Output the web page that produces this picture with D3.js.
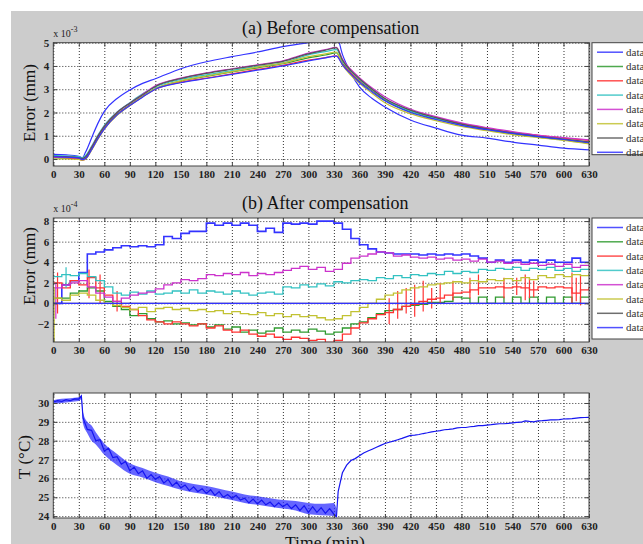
<!DOCTYPE html>
<html><head><meta charset="utf-8">
<script src="https://cdn.jsdelivr.net/npm/d3@7"></script>
<style>
body{margin:0;background:#fff;}
svg{display:block;font-family:"Liberation Serif","Times New Roman",serif;}
</style></head><body>
<svg id="c" width="643" height="544"></svg>
<script>
// ---------- shared ----------
const xTicks = [0,30,60,90,120,150,180,210,240,270,300,330,360,390,420,450,480,510,540,570,600,630];
const legendNames = ["data1","data2","data3","data4","data5","data6","data7","data8"];
const colors = ["#3333ff","#2f9a2f","#ff3333","#33c2c2","#cc33cc","#c2c233","#555555","#3333ff"];

// ---------- panel (a) Before compensation (x 10^-3 mm) ----------
const beforeTicks = [0,1,2,3,4,5];
const beforeTime = [0,15,30,34,38,45,52,60,75,90,105,120,150,180,210,240,270,300,320,333,340,350,360,375,390,420,450,480,510,540,570,600,630];
const beforeS1 = [0.2,0.18,0.12,0.05,0.3,0.9,1.5,2.05,2.6,2.97,3.25,3.45,3.88,4.18,4.4,4.6,4.83,5.0,5.1,5.3,4.5,3.7,3.1,2.6,2.24,1.68,1.33,1.03,0.9,0.73,0.6,0.47,0.39];
const beforeS2 = [0.05,0.04,0.02,-0.03,0.02,0.42,0.88,1.33,1.93,2.33,2.7,3.02,3.35,3.55,3.74,3.92,4.1,4.35,4.47,4.56,4.12,3.7,3.35,2.93,2.53,2.03,1.72,1.45,1.25,1.08,0.94,0.82,0.68];
const beforeS3 = [0.08,0.05,0.0,-0.05,0.0,0.4,0.85,1.3,1.9,2.3,2.68,3.0,3.3,3.48,3.66,3.85,4.03,4.25,4.36,4.44,4.08,3.7,3.38,2.97,2.58,2.08,1.78,1.52,1.32,1.15,1.02,0.9,0.8];
const beforeS4 = [0.15,0.13,0.1,0.05,0.15,0.55,1.0,1.45,2.02,2.42,2.8,3.1,3.42,3.62,3.8,3.98,4.13,4.48,4.62,4.7,4.22,3.78,3.42,2.98,2.58,2.06,1.75,1.48,1.28,1.12,0.98,0.85,0.72];
const beforeS5 = [0.1,0.08,0.05,0.0,0.08,0.5,0.95,1.4,2.0,2.4,2.78,3.15,3.48,3.7,3.88,4.05,4.22,4.55,4.7,4.8,4.3,3.85,3.5,3.05,2.68,2.15,1.82,1.55,1.35,1.18,1.03,0.92,0.82];
const beforeS6 = [0.0,0.0,-0.02,-0.05,0.0,0.38,0.82,1.28,1.88,2.3,2.68,3.02,3.36,3.57,3.76,3.95,4.12,4.4,4.52,4.6,4.05,3.6,3.25,2.82,2.42,1.95,1.65,1.4,1.22,1.05,0.92,0.8,0.65];
const beforeS7 = [0.12,0.1,0.06,0.02,0.1,0.5,0.95,1.4,2.0,2.4,2.76,3.12,3.46,3.68,3.86,4.03,4.2,4.52,4.68,4.78,4.25,3.8,3.45,3.0,2.6,2.1,1.78,1.5,1.3,1.12,0.98,0.86,0.74];
const beforeS8 = [0.1,0.08,0.05,-0.03,0.02,0.4,0.85,1.3,1.9,2.3,2.66,3.0,3.28,3.46,3.64,3.82,4.0,4.22,4.35,4.42,4.05,3.65,3.3,2.88,2.5,2.0,1.7,1.45,1.26,1.1,0.96,0.84,0.7];

// ---------- panel (b) After compensation (x 10^-4 mm) ----------
const afterTicks = [-2,0,2,4,6,8];
const afterTime = [0,10,20,30,40,50,60,70,80,90,100,110,120,130,140,150,160,170,180,190,200,210,220,230,240,250,260,270,280,290,300,310,320,330,340,350,360,370,380,390,400,410,420,430,440,450,460,470,480,490,500,510,520,530,540,550,560,570,580,590,600,610,620,630];
const afterS1 = [0.0,1.8,2.2,3.0,4.8,5.0,5.2,5.4,5.6,5.5,5.6,5.5,5.7,6.5,6.3,6.8,7.0,7.0,7.8,7.6,7.8,7.6,7.8,7.6,7.0,7.3,6.9,7.8,7.7,7.8,7.7,8.0,8.0,7.8,7.2,6.3,5.7,5.3,5.0,4.9,4.8,4.8,4.8,4.7,4.8,4.7,4.8,4.7,4.8,4.6,4.4,4.0,4.2,4.0,4.2,4.0,4.2,4.0,4.2,4.0,4.0,4.4,4.0,4.0];
const afterS2 = [0.5,0.5,1.0,1.2,1.5,1.2,0.2,-0.3,-0.6,-1.2,-1.0,-1.5,-1.8,-1.7,-2.0,-1.9,-2.1,-2.0,-2.3,-2.1,-2.5,-2.3,-2.8,-2.6,-2.9,-2.7,-2.4,-2.8,-2.6,-2.8,-2.5,-2.7,-3.0,-2.8,-2.4,-2.0,-1.8,-1.4,-1.0,-0.7,-0.6,-0.3,-0.2,-0.1,0.1,0.1,0.2,0.6,0.5,0.0,0.6,0.0,0.6,0.0,0.6,0.0,0.6,0.0,0.6,0.0,0.6,0.0,0.6,0.6];
const afterS3 = [2.0,1.5,2.2,1.8,2.5,1.5,0.8,0.2,-0.3,-0.6,-1.2,-1.6,-1.8,-2.0,-1.8,-2.0,-2.2,-2.0,-2.4,-2.2,-2.6,-2.8,-2.6,-3.0,-3.2,-3.0,-3.3,-3.5,-3.3,-3.4,-3.6,-3.5,-3.8,-3.6,-3.0,-2.4,-1.9,-1.5,-1.1,-0.9,-0.6,-0.3,-0.1,0.2,0.4,0.5,0.8,1.0,1.1,1.3,1.5,1.5,1.6,1.5,1.6,1.5,1.3,1.6,1.5,1.6,1.5,1.0,1.3,1.6];
const afterS4 = [2.6,2.8,2.7,2.9,2.6,2.2,1.6,1.0,0.8,1.1,0.9,1.2,0.9,1.0,1.2,1.0,1.3,1.0,1.2,1.1,0.9,1.2,1.0,0.8,1.0,1.1,0.9,1.6,1.5,1.8,1.6,1.9,1.7,2.1,2.0,2.2,2.3,2.2,2.5,2.4,2.7,2.5,2.8,2.7,2.9,2.8,3.1,2.9,3.1,3.0,3.3,3.2,3.4,3.3,3.5,3.2,3.4,3.3,3.5,3.2,3.4,3.1,3.3,3.4];
const afterS5 = [1.5,1.8,2.0,2.2,1.6,1.0,0.6,0.2,0.5,0.8,1.0,1.1,1.4,1.8,2.0,2.3,2.2,2.4,2.8,2.7,2.9,2.8,3.0,2.7,2.9,2.8,3.0,3.2,3.4,3.6,3.3,3.5,3.1,3.3,3.9,4.4,4.6,4.8,5.0,4.9,4.6,4.7,4.5,4.4,4.5,4.3,4.4,4.2,4.3,4.1,4.3,4.0,4.1,3.9,4.0,3.8,3.9,3.7,3.8,3.6,3.8,3.5,3.7,3.6];
const afterS6 = [0.5,0.3,0.8,1.0,0.8,0.3,0.0,-0.2,-0.4,-0.6,-0.4,-0.8,-0.5,-0.4,-0.6,-0.5,-0.7,-0.6,-0.8,-0.7,-1.0,-0.8,-1.0,-1.1,-0.9,-1.2,-1.0,-1.3,-1.1,-1.3,-1.2,-1.4,-1.6,-1.5,-1.2,-0.8,-0.4,0.0,0.4,0.8,1.0,1.3,1.5,1.6,1.8,1.9,2.0,2.1,2.0,2.2,2.1,2.3,2.2,2.4,2.2,2.5,2.3,2.7,2.5,2.8,2.6,2.8,2.7,2.9];
const refTime = [0,630];
const afterS7 = [0,0];
const afterS8 = [0,0];
// vertical noise spikes: [time, low, high]
const spikesS3 = [[5,-1,3],[42,0.5,3.3],[55,0,2.8],[75,-0.8,1.2],[395,-2,0.5],[405,-1.5,1.2],[415,-1,1.5],[425,-1.3,1.8],[435,-0.8,2.2],[445,-0.5,1.5],[455,0,2],[470,0.3,2.2],[490,0.5,2.5],[500,0.8,2.8],[530,0.5,2.5],[545,0.8,2.5],[555,0.3,2.8],[560,0.5,2.5],[565,0.6,2.2],[610,0,3],[615,0.2,2.5],[620,-0.2,2.8]];
const spikesS4 = [[15,1.5,3.5]];
const spikesS5 = [[3,-1.5,2]];
const spikesS6 = [[1,-3.8,1.6]];

// ---------- panel (c) Temperature ----------
const tempTicks = [24,25,26,27,28,29,30];
const tempTime = [0,5,10,15,20,25,30,33,35,40,45,50,55,60,65,70,75,80,85,90,95,100,105,110,115,120,125,130,135,140,145,150,155,160,165,170,175,180,185,190,195,200,205,210,215,220,225,230,235,240,245,250,255,260,265,270,275,280,285,290,295,300,305,310,315,320,325,330,333,335,340,345,350,355,360,365,370,375,380,385,390,395,400,405,410,415,420,425,430,435,440,445,450,455,460,465,470,475,480,485,490,495,500,505,510,515,520,525,530,535,540,545,550,555,560,565,570,575,580,585,590,595,600,605,610,615,620,625,630];
const tempVals = [30.05,30.12,30.08,30.18,30.12,30.22,30.2,30.38,29.2,28.6,28.55,28.0,28.05,27.45,27.6,27.1,27.15,26.75,26.9,26.4,26.6,26.25,26.4,26.0,26.2,25.95,26.1,25.75,25.95,25.6,25.8,25.5,25.65,25.35,25.55,25.3,25.45,25.2,25.4,25.1,25.3,25.0,25.15,24.95,25.1,24.85,24.95,24.7,24.9,24.65,24.85,24.6,24.75,24.5,24.7,24.5,24.65,24.4,24.6,24.3,24.55,24.2,24.5,24.2,24.45,24.15,24.4,24.1,23.98,25.3,26.3,26.7,26.95,27.05,27.2,27.35,27.45,27.55,27.65,27.75,27.85,27.92,27.98,28.05,28.12,28.2,28.28,28.3,28.33,28.38,28.42,28.47,28.5,28.53,28.58,28.6,28.63,28.68,28.7,28.7,28.74,28.76,28.8,28.8,28.83,28.85,28.88,28.9,28.9,28.92,28.95,28.97,28.98,29.05,29.02,29.0,29.05,29.06,29.08,29.1,29.1,29.12,29.15,29.16,29.17,29.2,29.22,29.23,29.24];
const envTime = [0,10,20,30,33,35,40,45,50,60,75,90,105,120,135,150,165,180,195,210,225,240,255,270,285,300,315,330,333];
const envHigh = [30.15,30.22,30.25,30.3,30.4,29.5,29.0,28.8,28.45,27.85,27.3,26.8,26.55,26.3,26.1,25.85,25.7,25.6,25.45,25.3,25.15,25.05,24.95,24.85,24.8,24.7,24.65,24.7,24.4];
const envLow = [29.95,30.0,30.05,30.1,30.2,28.9,28.4,28.0,27.8,27.25,26.7,26.25,26.05,25.8,25.6,25.4,25.25,25.15,25.0,24.85,24.7,24.6,24.5,24.4,24.3,24.1,24.05,24.0,23.95];

// ---------- drawing ----------
const svg = d3.select("#c");
svg.append("rect").attr("x",11).attr("y",11).attr("width",632).attr("height",533).attr("fill","#cccccc");

const X0 = 53.3, X1 = 589;
let clipN = 0;

function fitText(sel, target){
  const len = sel.node().getComputedTextLength();
  const fs = parseFloat(sel.attr("font-size"));
  if(len>0) sel.attr("font-size", (fs*target/len).toFixed(2));
}

function panel(o){
  const x = d3.scaleLinear().domain([0,630]).range([X0,X1]);
  const y = d3.scaleLinear().domain(o.domain).range([o.bottom,o.top]);
  const h = o.bottom - o.top, w = X1 - X0;
  const g = svg.append("g");
  g.append("rect").attr("x",X0).attr("y",o.top).attr("width",w).attr("height",h).attr("fill","#fff");
  // grid
  g.append("g").attr("transform",`translate(0,${o.bottom})`)
    .call(d3.axisBottom(x).tickValues(xTicks).tickSize(-h).tickFormat(""))
    .call(s=>{s.select(".domain").remove();s.selectAll("line").attr("stroke","#333").attr("stroke-dasharray","1,2").attr("stroke-width",1);});
  g.append("g").attr("transform",`translate(${X0},0)`)
    .call(d3.axisLeft(y).tickValues(o.yTicks).tickSize(-w).tickFormat(""))
    .call(s=>{s.select(".domain").remove();s.selectAll("line").attr("stroke","#333").attr("stroke-dasharray","1,2").attr("stroke-width",1);});
  // clip
  const id = "clip"+(clipN++);
  svg.append("clipPath").attr("id",id).append("rect").attr("x",X0).attr("y",o.top).attr("width",w).attr("height",h);
  const data = g.append("g").attr("clip-path",`url(#${id})`);
  o.draw(data,x,y);
  // border
  g.append("rect").attr("x",X0).attr("y",o.top).attr("width",w).attr("height",h).attr("fill","none").attr("stroke","#444").attr("stroke-width",1);
  // axes with labels
  const fx = s=>{s.select(".domain").remove();s.selectAll("line").attr("stroke","#444");s.selectAll("text").attr("fill","#222").attr("font-size",11).attr("font-weight","bold").attr("font-family","Liberation Serif");};
  g.append("g").attr("transform",`translate(0,${o.bottom})`)
    .call(d3.axisBottom(x).tickValues(xTicks).tickSize(-4).tickPadding(4).tickFormat(d3.format("d"))).call(fx);
  g.append("g").attr("transform",`translate(${X0},0)`)
    .call(d3.axisLeft(y).tickValues(o.yTicks).tickSize(-4).tickPadding(4).tickFormat(d3.format("d"))).call(fx);
  g.append("g").attr("transform",`translate(0,${o.top})`)
    .call(d3.axisTop(x).tickValues(xTicks).tickSize(-4).tickFormat("")).call(fx);
  g.append("g").attr("transform",`translate(${X1},0)`)
    .call(d3.axisRight(y).tickValues(o.yTicks).tickSize(-4).tickFormat("")).call(fx);
  // title
  if(o.title){
    const t = svg.append("text").attr("x",242).attr("y",o.titleY).attr("font-size",17).attr("fill","#111").text(o.title);
    fitText(t,o.titleW);
  }
  // y label
  svg.append("text").attr("transform",`translate(${o.ylabX},${o.ylabY}) rotate(-90)`).attr("text-anchor","middle").attr("font-size",17).attr("fill","#111").text(o.ylabel);
  // multiplier
  if(o.exp){
    const t = svg.append("text").attr("x",X0).attr("y",o.top-6).attr("font-size",10).attr("fill","#222");
    t.append("tspan").text("x 10");
    t.append("tspan").attr("dy",-5).attr("font-size",8).text(o.exp);
  }
  // legend
  if(o.legend){
    const lg = svg.append("g");
    const ly0 = o.top, lh = o.legendH;
    lg.append("rect").attr("x",592).attr("y",ly0).attr("width",70).attr("height",lh).attr("fill","#fff").attr("stroke","#444");
    legendNames.forEach((n,i)=>{
      const yy = ly0 + 9.5 + i*14.3;
      lg.append("line").attr("x1",597).attr("x2",623).attr("y1",yy).attr("y2",yy).attr("stroke",colors[i]).attr("stroke-width",1.5).attr("stroke-opacity",0.85);
      lg.append("text").attr("x",626).attr("y",yy+3.5).attr("font-size",11).attr("fill","#333").text(n);
    });
  }
}

// Panel (a)
panel({top:42.7,bottom:166,domain:[-0.3,5],yTicks:beforeTicks,title:"(a) Before compensation",titleY:34,titleW:177.5,
  ylabel:"Error (mm)",ylabX:35,ylabY:103,exp:"-3",legend:true,legendH:112,
  draw:(g,x,y)=>{
    const series=[beforeS1,beforeS2,beforeS3,beforeS4,beforeS5,beforeS6,beforeS7,beforeS8];
    const line=d3.line().x((d,i)=>x(beforeTime[i])).y(d=>y(d)).curve(d3.curveMonotoneX);
    series.forEach((s,i)=>g.append("path").attr("d",line(s)).attr("fill","none").attr("stroke",colors[i]).attr("stroke-width",1.2));
  }});

// Panel (b)
panel({top:218,bottom:342,domain:[-3.76,8.3],yTicks:afterTicks,title:"(b) After compensation",titleY:209,titleW:166.5,
  ylabel:"Error (mm)",ylabX:35,ylabY:266,exp:"-4",legend:true,legendH:121,
  draw:(g,x,y)=>{
    const series=[[afterTime,afterS1],[afterTime,afterS2],[afterTime,afterS3],[afterTime,afterS4],[afterTime,afterS5],[afterTime,afterS6],[refTime,afterS7],[refTime,afterS8]];
    const spikes={2:spikesS3,3:spikesS4,4:spikesS5,5:spikesS6};
    series.forEach(([t,s],i)=>{
      const line=d3.line().x((d,j)=>x(t[j])).y(d=>y(d)).curve(d3.curveStepAfter);
      g.append("path").attr("d",line(s)).attr("fill","none").attr("stroke",colors[i]).attr("stroke-width",i===0?1.6:1.3);
      if(spikes[i]) spikes[i].forEach(sp=>g.append("line").attr("x1",x(sp[0])).attr("x2",x(sp[0])).attr("y1",y(sp[1])).attr("y2",y(sp[2])).attr("stroke",colors[i]).attr("stroke-width",1.2));
    });
  }});

// Panel (c)
panel({top:393,bottom:518,domain:[23.9,30.53],yTicks:tempTicks,
  ylabel:"T (°C)",ylabX:30,ylabY:457,
  draw:(g,x,y)=>{
    const area=d3.area().x((d,i)=>x(envTime[i])).y0((d,i)=>y(envLow[i])).y1(d=>y(d)).curve(d3.curveMonotoneX);
    g.append("path").attr("d",area(envHigh)).attr("fill","#2a2aff").attr("fill-opacity",0.72);
    const line=d3.line().x((d,i)=>x(tempTime[i])).y(d=>y(d));
    g.append("path").attr("d",line(tempVals)).attr("fill","none").attr("stroke","#1515f0").attr("stroke-width",1.2);
  }});

const tl = svg.append("text").attr("x",285).attr("y",548).attr("font-size",17).attr("fill","#111").text("Time (min)");
fitText(tl,80);
</script>
</body></html>
